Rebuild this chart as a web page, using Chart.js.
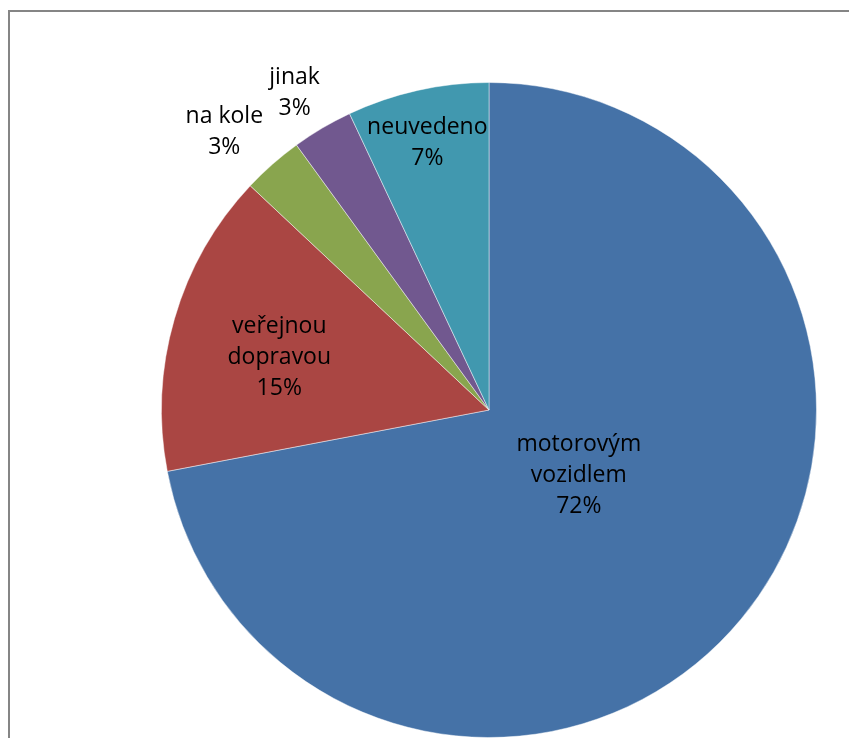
<!DOCTYPE html>
<html>
<head>
<meta charset="utf-8">
<script src="https://cdn.jsdelivr.net/npm/chart.js@4/dist/chart.umd.min.js"></script>
<style>
  html, body { margin: 0; padding: 0; background: #fff; }
  #wrap { width: 849px; height: 738px; }
</style>
</head>
<body>
<div id="wrap"><canvas id="chart" width="849" height="738"></canvas></div>
<script>
// Způsob dopravy – podíly v procentech
const categories = [['motorovým', 'vozidlem'], ['veřejnou', 'dopravou'], ['na kole'], ['jinak'], ['neuvedeno']];
const shares = [72, 15, 3, 3, 7];
const sliceColors = ['#4572A7', '#AA4643', '#89A54E', '#71588F', '#4198AF'];

// label placement: distance from the centre (fraction of the radius)
// and a small turn (degrees) away from the slice's middle angle
const labelRadius = [0.339, 0.66, 1.172, 1.136, 0.837];
const labelTurn = [-3.6, -2.2, -2.2, -0.9, -0.4];

const frame = {
  id: 'frame',
  beforeDraw(chart) {
    const ctx = chart.ctx;
    ctx.save();
    ctx.fillStyle = '#858585';
    ctx.fillRect(8, 10, 2, chart.height - 10);
    ctx.fillRect(8, 10, chart.width - 8, 2);
    ctx.restore();
  }
};

const sliceLabels = {
  id: 'sliceLabels',
  afterDatasetsDraw(chart) {
    const ctx = chart.ctx;
    const meta = chart.getDatasetMeta(0);
    const values = chart.data.datasets[0].data;
    const total = values.reduce((a, b) => a + b, 0);
    const lineH = 31;
    ctx.save();
    ctx.font = '23px "Open Sans"';
    ctx.fillStyle = '#000';
    ctx.textAlign = 'center';
    ctx.textBaseline = 'middle';
    meta.data.forEach((arc, i) => {
      const p = arc.getProps(['x', 'y', 'startAngle', 'endAngle', 'outerRadius'], true);
      const mid = (p.startAngle + p.endAngle) / 2 + labelTurn[i] * Math.PI / 180;
      const r = p.outerRadius * labelRadius[i];
      const cx = p.x + Math.cos(mid) * r;
      const cy = p.y + Math.sin(mid) * r;
      const lines = [].concat(chart.data.labels[i], Math.round(values[i] / total * 100) + '%');
      const top = cy - (lines.length - 1) * lineH / 2;
      lines.forEach((t, k) => ctx.fillText(t, cx, top + k * lineH));
    });
    ctx.restore();
  }
};

new Chart(document.getElementById('chart'), {
  type: 'pie',
  data: {
    labels: categories,
    datasets: [{
      data: shares,
      backgroundColor: sliceColors,
      borderColor: 'rgba(255,255,255,0.45)',
      borderWidth: 1
    }]
  },
  options: {
    responsive: false,
    animation: false,
    layout: { padding: { left: 161, right: 32, top: 82, bottom: 0 } },
    plugins: {
      legend: { display: false },
      tooltip: { enabled: false }
    }
  },
  plugins: [frame, sliceLabels]
});
</script>
</body>
</html>
